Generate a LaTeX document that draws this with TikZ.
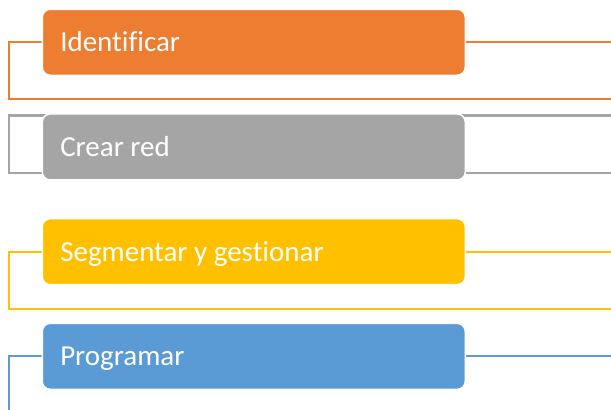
\documentclass[tikz,border=0pt]{standalone}
\usepackage{fontspec}
\setmainfont[Ligatures=NoCommon]{Carlito}
\usetikzlibrary{positioning,backgrounds}
\definecolor{boxorange}{RGB}{237, 125, 49}
\definecolor{boxgray}{RGB}{165, 165, 165}
\definecolor{boxyellow}{RGB}{255, 192, 0}
\definecolor{boxblue}{RGB}{91, 155, 213}

\begin{document}
\begin{tikzpicture}[x=1pt, y=1pt,
    stepbox/.style={draw=white, line width=1.5pt, rounded corners=8pt,
        text=white, font=\fontsize{29}{33}\selectfont, align=left,
        text width=387pt, inner xsep=18pt, minimum height=66pt,
        text height=21pt, text depth=2pt,
        execute at begin node={\spaceskip=0pt\xspaceskip=0pt}},
    frame/.style={line width=2.2pt},
    node distance=37.2pt]
\useasboundingbox (0,0) rectangle (611,-410);

% the four steps
\node[stepbox, fill=boxorange, anchor=north west] (ident) at (41.5,-8.5) {Identificar};
\node[stepbox, fill=boxgray, below=of ident] (red) {Crear red};
\node[stepbox, fill=boxyellow, below=of red] (segm) {Segmentar y gestionar};
\node[stepbox, fill=boxblue, below=of segm] (prog) {Programar};

% side frames behind the boxes
\coordinate (L) at (9,0);
\coordinate (R) at (620,0);
\begin{scope}[on background layer]
\draw[frame, boxorange] (R |- ident.center) -- (L |- ident.center) -- (L |- 0,-99) -- (R |- 0,-99);
\draw[frame, boxgray] (R |- 0,-115.5) -- (L |- 0,-115.5) -- (L |- 0,-173) -- (R |- 0,-173);
\draw[frame, boxyellow] (R |- segm.center) -- (L |- segm.center) -- (L |- 0,-309) -- (R |- 0,-309);
\draw[frame, boxblue] (R |- prog.center) -- (L |- prog.center) -- (L |- 0,-420);
\end{scope}
\end{tikzpicture}
\end{document}
